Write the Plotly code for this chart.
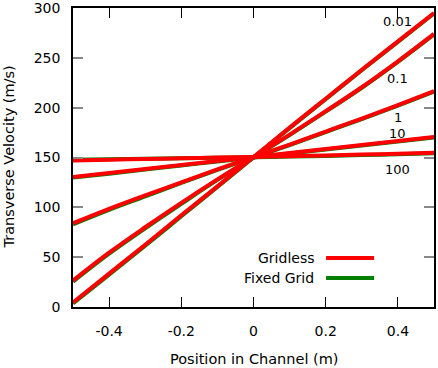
import plotly.graph_objects as go

# ---- data ----
positions = [-0.5, -0.4, -0.3, -0.2, -0.1, 0.0, 0.1, 0.2, 0.3, 0.4, 0.5]
curve_labels = ["0.01", "0.1", "1", "10", "100"]

gridless_001 = [4.5, 33.5, 62.5, 92, 121, 150.5, 180, 209, 238, 266.5, 295]
gridless_01 = [26.5, 54.5, 80, 104.5, 128, 150.5, 173, 196.5, 220.5, 246.5, 274]
gridless_1 = [84, 98.5, 112, 125, 138, 150.5, 163, 176, 189, 202.5, 216.5]
gridless_10 = [130.5, 134.5, 138.5, 142.5, 146.5, 150.5, 154.5, 158.5, 162.5, 166.5, 170.5]
gridless_100 = [147, 147.8, 148.5, 149.2, 149.9, 150.5, 151.3, 152.1, 152.9, 153.8, 154.7]

fixed_001 = [3.5, 32.5, 61.5, 91, 120.5, 150, 179.5, 208.5, 237.5, 266, 294.5]
fixed_01 = [25.5, 53.5, 79, 103.5, 127.5, 150, 172.5, 196, 220, 246, 273.5]
fixed_1 = [83, 97.5, 111, 124.5, 137.5, 150, 162.5, 175.5, 188.5, 202, 216]
fixed_10 = [129.8, 133.8, 137.9, 142, 146, 150, 154, 158, 162, 166, 170]
fixed_100 = [147.8, 148.3, 148.8, 149.3, 149.8, 150.3, 150.9, 151.6, 152.4, 153.3, 154.2]

label_x = [0.4, 0.4, 0.4, 0.4, 0.4]
label_y = [286, 229, 190, 174, 138]

gridless = [gridless_001, gridless_01, gridless_1, gridless_10, gridless_100]
fixed = [fixed_001, fixed_01, fixed_1, fixed_10, fixed_100]

FONT = "DejaVu Sans"
RED = "#ff0000"
GREEN = "#008000"

fig = go.Figure()
for name, ys in zip(curve_labels, fixed):
    fig.add_trace(go.Scatter(x=positions, y=ys, mode="lines",
                             line=dict(color=GREEN, width=4, shape="spline", smoothing=1),
                             name="Fixed Grid " + name, showlegend=False,
                             hoverinfo="skip"))
for name, ys in zip(curve_labels, gridless):
    fig.add_trace(go.Scatter(x=positions, y=ys, mode="lines",
                             line=dict(color=RED, width=4, shape="spline", smoothing=1),
                             name="Gridless " + name, showlegend=False,
                             hoverinfo="skip"))

annotations = []
for t, lx, ly in zip(curve_labels, label_x, label_y):
    annotations.append(dict(x=lx, y=ly, xref="x", yref="y", text=t,
                            showarrow=False, font=dict(family=FONT, size=13, color="black"),
                            xanchor="center", yanchor="middle"))

# legend (gnuplot style: text then sample)
legend_items = [("Gridless", RED, 0.164), ("Fixed Grid", GREEN, 0.097)]
shapes = []
for txt, col, py in legend_items:
    annotations.append(dict(x=0.673, y=py, xref="paper", yref="paper", text=txt,
                            showarrow=False, font=dict(family=FONT, size=14, color="black"),
                            xanchor="right", yanchor="middle"))
    shapes.append(dict(type="line", xref="paper", yref="paper",
                       x0=0.701, x1=0.834, y0=py, y1=py,
                       line=dict(color=col, width=4)))

# axis titles
annotations.append(dict(x=0.5, y=-0.174, xref="paper", yref="paper",
                        text="Position in Channel (m)", showarrow=False,
                        font=dict(family=FONT, size=14.5, color="black"),
                        xanchor="center", yanchor="middle"))
annotations.append(dict(x=-0.18, y=0.5, xref="paper", yref="paper",
                        text="Transverse Velocity (m/s)", showarrow=False, textangle=-90,
                        font=dict(family=FONT, size=14.5, color="black"),
                        xanchor="center", yanchor="middle"))

fig.update_layout(
    width=438, height=368,
    margin=dict(l=73, r=4, t=8, b=61, autoexpand=False),
    paper_bgcolor="white", plot_bgcolor="white",
    font=dict(family=FONT, size=14, color="black"),
    showlegend=False,
    annotations=annotations,
    shapes=shapes,
)
fig.update_xaxes(range=[-0.5, 0.5], tickvals=[-0.4, -0.2, 0, 0.2, 0.4],
                 ticktext=["-0.4", "-0.2", "0", "0.2", "0.4"],
                 ticks="inside", ticklen=10, tickwidth=1, tickcolor="black",
                 showline=True, linecolor="black", linewidth=1.5, mirror="allticks",
                 showgrid=False, zeroline=False, ticklabelstandoff=10,
                 ticklabeloverflow="allow", automargin=False,
                 tickfont=dict(family=FONT, size=14, color="black"))
fig.update_yaxes(range=[0, 300], tickvals=[0, 50, 100, 150, 200, 250, 300],
                 ticks="inside", ticklen=10, tickwidth=1.5, tickcolor="#888888",
                 showline=True, linecolor="black", linewidth=1.5, mirror="allticks",
                 showgrid=False, zeroline=False, ticklabelstandoff=8,
                 ticklabeloverflow="allow", automargin=False,
                 tickfont=dict(family=FONT, size=14, color="black"))

fig.write_html("out.html", config={"displayModeBar": False},
               post_script="document.body.style.margin='0px';document.body.style.overflow='hidden';")
